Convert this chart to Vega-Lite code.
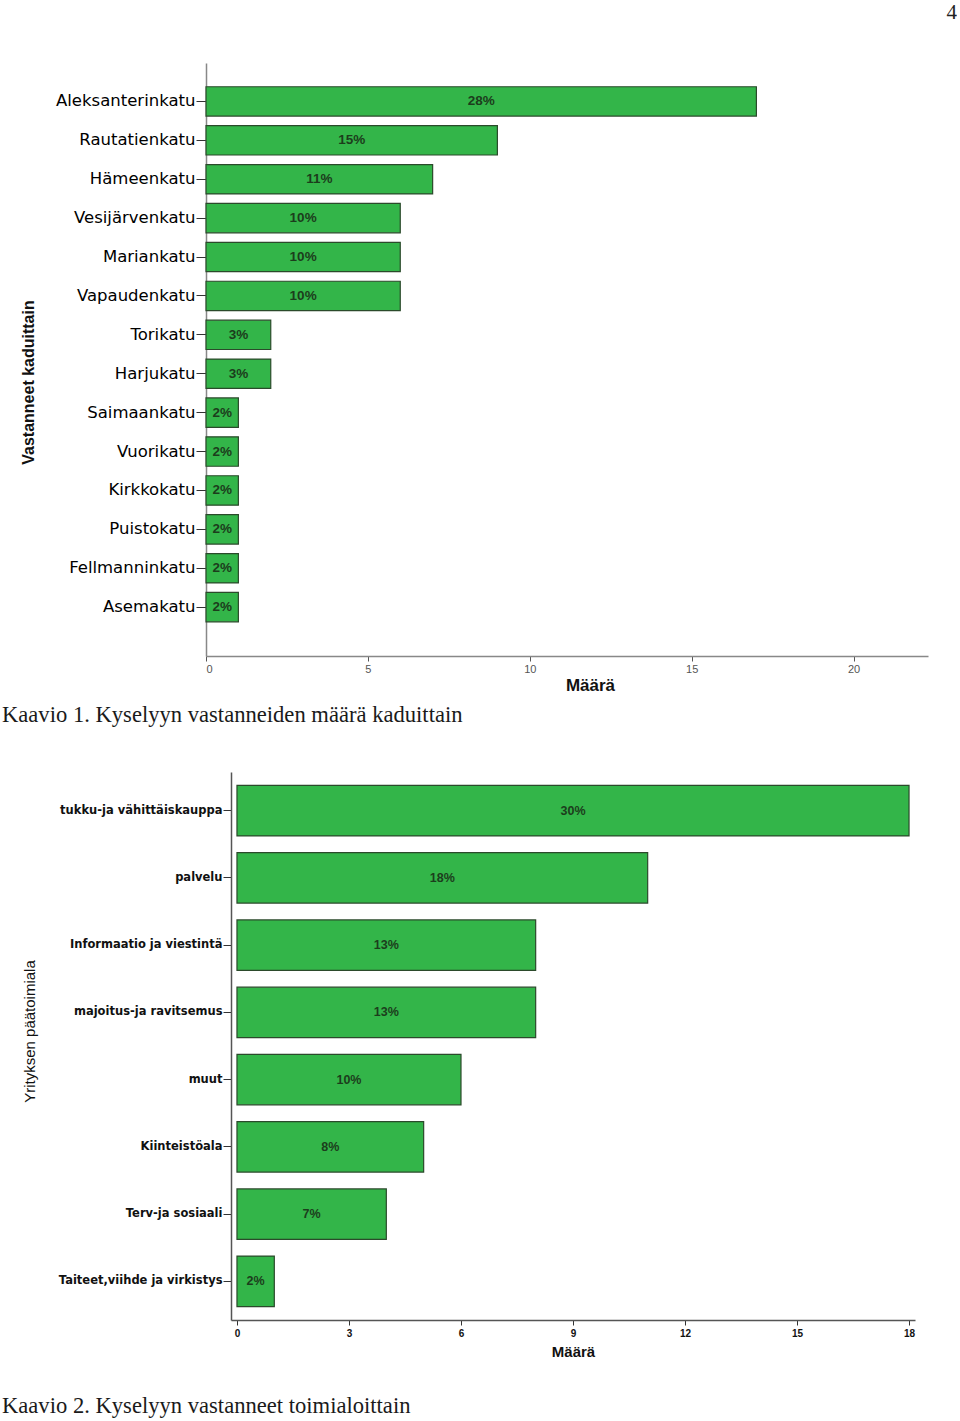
{
  "$schema": "https://vega.github.io/schema/vega-lite/v6.json",
  "padding": {"left": 2, "top": 2, "right": 0, "bottom": 0},
  "background": "white",
  "title": {"text": "4", "anchor": "end", "frame": "bounds", "font": "Liberation Serif", "fontSize": 21, "fontWeight": "normal", "color": "#222", "dx": 29, "offset": 40},
  "config": {"view": {"stroke": null}, "axis": {"grid": false}},
  "spacing": 45,
  "vconcat": [
    {
      "width": 722,
      "height": 593,
      "title": {"text": "Kaavio 1. Kyselyyn vastanneiden määrä kaduittain", "orient": "bottom", "anchor": "start", "frame": "bounds", "dx": -18, "offset": 11, "font": "Liberation Serif", "fontSize": 22.6, "fontWeight": "normal", "color": "#1a1a1a"},
      "data": {"values": [
        {"katu": "Aleksanterinkatu", "maara": 17, "osuus": "28%"},
        {"katu": "Rautatienkatu", "maara": 9, "osuus": "15%"},
        {"katu": "Hämeenkatu", "maara": 7, "osuus": "11%"},
        {"katu": "Vesijärvenkatu", "maara": 6, "osuus": "10%"},
        {"katu": "Mariankatu", "maara": 6, "osuus": "10%"},
        {"katu": "Vapaudenkatu", "maara": 6, "osuus": "10%"},
        {"katu": "Torikatu", "maara": 2, "osuus": "3%"},
        {"katu": "Harjukatu", "maara": 2, "osuus": "3%"},
        {"katu": "Saimaankatu", "maara": 1, "osuus": "2%"},
        {"katu": "Vuorikatu", "maara": 1, "osuus": "2%"},
        {"katu": "Kirkkokatu", "maara": 1, "osuus": "2%"},
        {"katu": "Puistokatu", "maara": 1, "osuus": "2%"},
        {"katu": "Fellmanninkatu", "maara": 1, "osuus": "2%"},
        {"katu": "Asemakatu", "maara": 1, "osuus": "2%"}
      ]},
      "encoding": {
        "y": {"field": "katu", "type": "nominal", "sort": null,
          "scale": {"paddingInner": 0.245, "paddingOuter": 0.744, "align": 0.41},
          "axis": {"title": "Vastanneet kaduittain", "titleFont": "Liberation Sans", "titleFontSize": 16, "titleFontWeight": "bold", "titleColor": "#111", "titlePadding": 18, "titleY": 319,
            "labelFont": "DejaVu Sans", "labelFontSize": 16.5, "labelColor": "#000", "labelPadding": 1, "labelLimit": 0,
            "tickSize": 10, "tickColor": "#333", "domainColor": "#888", "domainWidth": 1.5, "minExtent": 152, "maxExtent": 152}}
      },
      "layer": [
        {"mark": {"type": "bar", "fill": "#33b549", "stroke": "#2b4a2b", "strokeWidth": 1.2},
         "encoding": {"x": {"field": "maara", "type": "quantitative", "scale": {"domain": [0, 22.3], "nice": false},
           "axis": {"title": "Määrä", "values": [0, 5, 10, 15, 20], "titleFont": "Liberation Sans", "titleFontSize": 17, "titleFontWeight": "bold", "titleColor": "#111", "titleX": 384, "titlePadding": 3,
             "labelFont": "Liberation Sans", "labelFontSize": 11, "labelColor": "#555", "labelPadding": 2, "tickSize": 5, "tickColor": "#555", "domainColor": "#888", "domainWidth": 1.5}}}},
        {"mark": {"type": "text", "font": "Liberation Sans", "fontSize": 13.5, "fontWeight": "bold", "color": "#1c3d1c", "align": "center", "baseline": "middle"},
         "encoding": {"x": {"field": "maara", "type": "quantitative", "scale": {"domain": [0, 44.6], "nice": false}, "axis": null},
           "text": {"field": "osuus"}}}
      ],
      "resolve": {"scale": {"x": "independent"}}
    },
    {
      "width": 709,
      "height": 548,
      "title": {"text": "Kaavio 2. Kyselyyn vastanneet toimialoittain", "orient": "bottom", "anchor": "start", "frame": "bounds", "dx": -20, "offset": 36, "font": "Liberation Serif", "fontSize": 22.6, "fontWeight": "normal", "color": "#1a1a1a"},
      "data": {"values": [
        {"ala": "tukku-ja vähittäiskauppa", "maara": 18, "osuus": "30%"},
        {"ala": "palvelu", "maara": 11, "osuus": "18%"},
        {"ala": "Informaatio ja viestintä", "maara": 8, "osuus": "13%"},
        {"ala": "majoitus-ja ravitsemus", "maara": 8, "osuus": "13%"},
        {"ala": "muut", "maara": 6, "osuus": "10%"},
        {"ala": "Kiinteistöala", "maara": 5, "osuus": "8%"},
        {"ala": "Terv-ja sosiaali", "maara": 4, "osuus": "7%"},
        {"ala": "Taiteet,viihde ja virkistys", "maara": 1, "osuus": "2%"}
      ]},
      "encoding": {
        "y": {"field": "ala", "type": "nominal", "sort": null,
          "scale": {"paddingInner": 0.25, "paddingOuter": 0.2, "align": 0.5},
          "axis": {"offset": -25, "title": "Yrityksen päätoimiala", "titleFont": "Liberation Sans", "titleFontSize": 15, "titleFontWeight": "normal", "titleColor": "#111", "titlePadding": 23, "titleY": 259,
            "labelFont": "DejaVu Sans", "labelFontSize": 11.5, "labelFontWeight": "bold", "labelColor": "#111", "labelPadding": 1, "labelLimit": 0,
            "tickSize": 8, "tickColor": "#333", "domainColor": "#555", "domainWidth": 1.5, "minExtent": 171, "maxExtent": 171}}
      },
      "layer": [
        {"mark": {"type": "bar", "fill": "#33b549", "stroke": "#2b4a2b", "strokeWidth": 1.2},
         "encoding": {"x": {"field": "maara", "type": "quantitative", "scale": {"domain": [-0.16, 18.16], "range": [25, 709], "nice": false},
           "axis": {"title": "Määrä", "values": [0, 3, 6, 9, 12, 15, 18], "titleFont": "Liberation Sans", "titleFontSize": 15, "titleFontWeight": "bold", "titleColor": "#111", "titlePadding": 6,
             "labelFont": "Liberation Sans", "labelFontSize": 10, "labelFontWeight": "bold", "labelColor": "#111", "labelPadding": 3, "tickSize": 5, "tickColor": "#333", "domainColor": "#555", "domainWidth": 1.5}}}},
        {"mark": {"type": "text", "font": "Liberation Sans", "fontSize": 12.5, "fontWeight": "bold", "color": "#1c3d1c", "align": "center", "baseline": "middle"},
         "encoding": {"x": {"field": "maara", "type": "quantitative", "scale": {"domain": [-0.32, 36.32], "range": [25, 709], "nice": false}, "axis": null},
           "text": {"field": "osuus"}}}
      ],
      "resolve": {"scale": {"x": "independent"}}
    }
  ]
}
